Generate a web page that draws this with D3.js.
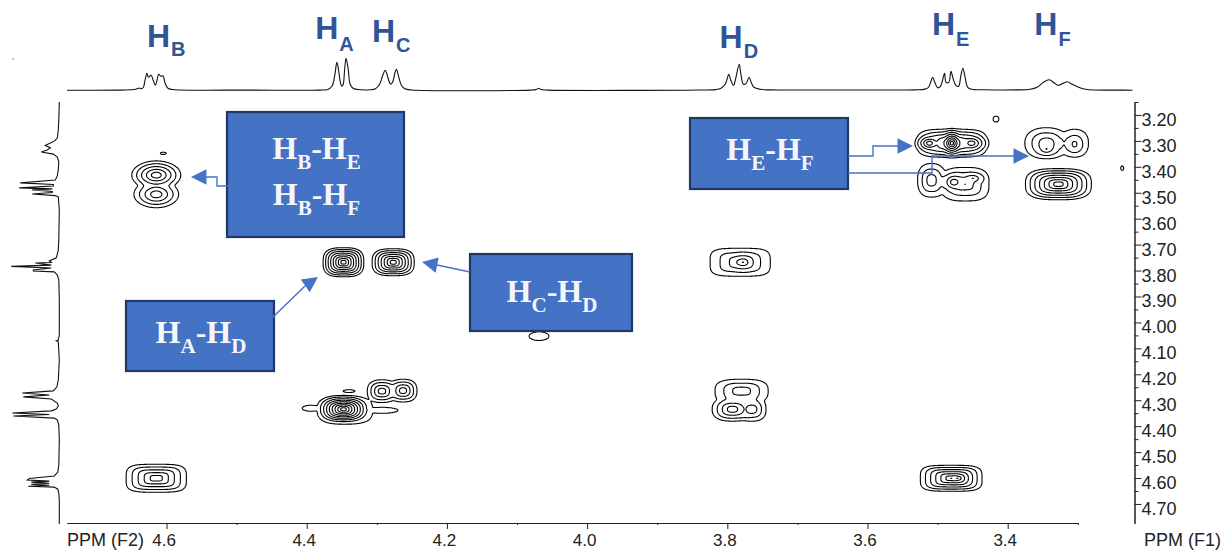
<!DOCTYPE html>
<html><head><meta charset="utf-8">
<script src="https://cdn.jsdelivr.net/npm/d3@7"></script>
<style>html,body{margin:0;padding:0;background:#fff}svg{display:block}</style>
</head><body><svg id="c" width="1223" height="551"></svg>
<script>
// ---- axis ticks
const f2Major = [4.6,4.4,4.2,4.0,3.8,3.6,3.4];
const f2Minor = [4.5,4.3,4.1,3.9,3.7,3.5,3.3];
const f1Major = [3.2,3.3,3.4,3.5,3.6,3.7,3.8,3.9,4.0,4.1,4.2,4.3,4.4,4.5,4.6,4.7];
const f1Minor = [3.15,3.25,3.35,3.45,3.55,3.65,3.75,3.85,3.95,4.05,4.15,4.25,4.35,4.45,4.55,4.65];
// ---- 1D proton trace along F2 (ppm, intensity)
const topPpm = [4.742,4.666,4.652,4.644,4.639,4.636,4.633,4.631,4.628,4.626,4.622,4.619,4.616,4.614,4.611,4.608,4.605,4.602,4.598,4.592,4.581,4.481,4.381,4.370,4.364,4.360,4.357,4.355,4.352,4.350,4.348,4.346,4.344,4.341,4.338,4.334,4.327,4.310,4.302,4.296,4.292,4.288,4.286,4.282,4.280,4.277,4.274,4.272,4.269,4.265,4.260,4.250,4.081,4.073,4.069,4.066,4.056,3.839,3.817,3.809,3.803,3.800,3.798,3.795,3.791,3.788,3.783,3.781,3.777,3.773,3.769,3.766,3.762,3.753,3.739,3.653,3.582,3.532,3.518,3.513,3.510,3.507,3.504,3.500,3.496,3.493,3.490,3.488,3.484,3.481,3.478,3.474,3.470,3.467,3.464,3.461,3.457,3.451,3.432,3.389,3.368,3.358,3.349,3.341,3.333,3.328,3.321,3.315,3.308,3.299,3.289,3.275,3.239,3.222];
const topInt = [0,0.2,0.5,1,2.3,1.5,3,9,17,13,15,10,5,9,16,14,14.5,7,2,0.8,0.3,0.2,0.2,0.8,4,15,28,22,8,4,6,20,32,22,6,2,0.8,0.5,1.5,6,14,20,17,8,6,9,18,21,14,5,1.5,0.3,0.2,0.7,2,0.7,0.2,0.3,0.7,2,6,12,16,10,5,12,26,18,6,7,13,8,3,1,0.4,0.3,0.3,0.4,1.2,3,8,13,8,2.5,4,10,17,8,8,19,12,5,4,14,22,14,3,1,0.5,0.4,1,3,8,10.5,7,5,7,8.5,6,3,1,0.3,0.2,0];
// ---- 1D proton trace along F1 (ppm, intensity)
const leftPpm = [3.150,3.219,3.258,3.289,3.301,3.308,3.318,3.326,3.335,3.343,3.351,3.362,3.381,3.412,3.435,3.451,3.462,3.468,3.474,3.481,3.485,3.489,3.495,3.499,3.505,3.511,3.516,3.566,3.682,3.721,3.751,3.763,3.769,3.771,3.779,3.784,3.790,3.798,3.802,3.805,3.817,3.836,3.913,4.048,4.068,4.071,4.075,4.145,4.222,4.249,4.264,4.272,4.280,4.287,4.295,4.311,4.322,4.334,4.341,4.349,4.355,4.361,4.369,4.376,4.395,4.453,4.550,4.577,4.592,4.602,4.608,4.612,4.616,4.620,4.624,4.628,4.632,4.635,4.643,4.658,4.685,4.777];
const leftInt = [0,0.5,1,2,5,9,14,9,12,18,6,2,0.5,1,2,4,39,6,6,40,7,27,7,7,27,4,1,0,0.5,1,3,10,8,24,8,48,8,26,26,5,2,0.5,0,0,1,3,1,0,1,2.5,6,37,10,36,8,2,1,3,8,47,10,46,5,2,0.5,0,0.5,1.5,5,30,32,10,28,10,28,10,31,5,1.5,0.5,0,0];
// ---- 2D cross peaks: centre, half width of the outer contour, contour count, squareness
const peakF2 = [4.615,4.615, 4.348,4.277, 4.348,4.345,4.292,4.395, 4.293,4.263, 4.340, 4.615, 3.782,3.778, 3.780,3.793,3.765, 3.481,3.472, 3.480,3.480,3.512,3.452, 3.509,3.461,3.477,3.450, 3.345,3.345,3.305,3.305, 3.328, 4.069, 3.417, 3.237, 4.605];
const peakF1 = [3.431,3.505, 3.767,3.767, 4.334,4.338,4.338,4.330, 4.264,4.262, 4.264, 4.600, 3.767,3.767, 4.264,4.334,4.334, 4.600,4.600, 3.308,3.308,3.308,3.308, 3.451,3.466,3.458,3.443, 3.308,3.330,3.308,3.315, 3.466, 4.052, 3.215, 3.404, 3.347];
const peakWF2 = [0.035,0.032, 0.029,0.030, 0.036,0.038,0.022,0.012, 0.021,0.020, 0.0086, 0.043, 0.043,0.022, 0.038,0.029,0.020, 0.044,0.026, 0.0485,0.018,0.020,0.024, 0.020,0.034,0.019,0.019, 0.031,0.016,0.020,0.012, 0.047, 0.0143, 0.0043, 0.0022, 0.0043];
const peakWF1 = [0.055,0.052, 0.056,0.052, 0.052,0.052,0.012,0.012, 0.044,0.044, 0.006, 0.054, 0.054,0.040, 0.046,0.046,0.046, 0.050,0.032, 0.054,0.054,0.036,0.040, 0.065,0.065,0.040,0.024, 0.060,0.030,0.054,0.036, 0.060, 0.0174, 0.0116, 0.0090, 0.0050];
const peakRings = [5,4, 8,7, 9,1,1,1, 4,4, 1, 5, 3,4, 3,4,3, 6,6, 5,8,5,5, 3,3,4,3, 3,3,2,2, 7, 1, 1, 1, 1];
const peakPower = [2,2, 3,3, 2.5,3,2,2, 2.5,2.5, 2, 4, 4,2, 3,2.5,2.5, 4,2.5, 4,2,2,2, 2.5,3,2,2, 2.3,2,2.3,2, 3, 2, 2, 2, 2];
// ---- labels
const protonNames = ["B","A","C","D","E","F"];
const protonPpm = [4.628,4.388,4.307,3.811,3.508,3.362];
const protonBase = [47,39,42,48,35,35];
const protonSubDrop = [9,12,10,10,11,11];
const boxLines = [[["B","E"],["B","F"]],[["E","F"]],[["A","D"]],[["C","D"]]];
const boxRects = [[227,112,177,125],[690,118,158,71],[126,301,148,70],[470,254,162,77]];
const boxBase = [[159,205],[160],[343],[302]];
const arrows = [
 [[229,186],[217,186],[217,177],[206,177],[191,177]],
 [[848,156],[873,156],[873,146],[898,146],[913,146]],
 [[848,173],[932,173],[932,156],[1014,156],[1029,156]],
 [[272,318],[305,286],[318,277]],
 [[470,272],[437,265],[422,262]]
];
const F = "'Liberation Sans',Arial,sans-serif";
const svg = d3.select("#c");
const x = d3.scaleLinear().domain([4.742,3.3]).range([67,1077.8]);
const y = d3.scaleLinear().domain([3.15,4.775]).range([102,523.4]);
const topY = d3.scaleLinear().domain([0,33]).range([90.3,57.3]);
const leftX = d3.scaleLinear().domain([0,50]).range([59.3,9.3]);

// ---- contour surface
const sc=2, gx0=60, gy0=100, gw=(1130-gx0)*sc, gh=(528-gy0)*sc;
const grid=new Float64Array(gw*gh);
const C=0.5, Q=3;
peakF2.forEach((f2,k)=>{
  const cx=(x(f2)-gx0)*sc, cy=(y(peakF1[k])-gy0)*sc;
  const wx=Math.abs(x(f2+peakWF2[k])-x(f2))*sc, wy=Math.abs(y(peakF1[k]+peakWF1[k])-y(peakF1[k]))*sc;
  const p=peakPower[k], h=peakRings[k];
  const i0=Math.max(0,Math.floor(cx-wx*2)), i1=Math.min(gw-1,Math.ceil(cx+wx*2));
  const j0=Math.max(0,Math.floor(cy-wy*2)), j1=Math.min(gh-1,Math.ceil(cy+wy*2));
  for(let j=j0;j<=j1;j++)for(let i=i0;i<=i1;i++){
    const d=Math.pow(Math.pow(Math.abs((i-cx)/wx),p)+Math.pow(Math.abs((j-cy)/wy),p),1/p);
    const e=d<1?C*h*(1-d):C*8*(1-d);
    grid[j*gw+i]+=Math.exp(Q*e);
  }
});
for(let i=0;i<grid.length;i++) grid[i]=Math.cbrt(grid[i]);
const thresholds=d3.range(0,9).map(k=>Math.exp(C*k));
const cs=d3.contours().size([gw,gh]).thresholds(thresholds)(grid);
const gc=svg.append("g").attr("transform",`translate(${gx0},${gy0}) scale(${1/sc})`);
gc.selectAll("path").data(cs).join("path").attr("d",d3.geoPath())
  .attr("fill","none").attr("stroke","#000").attr("stroke-width",2.2);

// ---- 1D traces
svg.append("path").attr("fill","none").attr("stroke","#111").attr("stroke-width",1.1)
  .attr("d",d3.line().x((d,i)=>x(d)).y((d,i)=>topY(topInt[i])).curve(d3.curveCatmullRom)(topPpm));
svg.append("path").attr("fill","none").attr("stroke","#111").attr("stroke-width",1.1)
  .attr("d",d3.line().x((d,i)=>leftX(leftInt[i])).y(d=>y(d))(leftPpm));
svg.append("circle").attr("cx",13).attr("cy",59).attr("r",0.7).attr("fill","#555");

// ---- axes
const ax=svg.append("g").attr("transform","translate(0,523)");
ax.call(d3.axisBottom(x).tickValues(f2Major).tickSize(6).tickSizeOuter(0).tickFormat(d3.format(".1f")));
ax.selectAll(".tick text").attr("dx",-3).attr("y",11).attr("dy","0.71em").attr("font-size",17);
const ax2=svg.append("g").attr("transform","translate(0,523)");
ax2.call(d3.axisBottom(x).tickValues(f2Minor).tickSize(2).tickSizeOuter(0).tickFormat(""));
const ay=svg.append("g").attr("transform","translate(1134.5,0)");
ay.call(d3.axisRight(y).tickValues(f1Major).tickSize(7).tickSizeOuter(0).tickFormat(d3.format(".2f")));
ay.selectAll(".tick text").attr("x",7).attr("dy","0.58em").attr("font-size",18);
const ay2=svg.append("g").attr("transform","translate(1134.5,0)");
ay2.call(d3.axisRight(y).tickValues(f1Minor).tickSize(4).tickSizeOuter(0).tickFormat(""));
svg.selectAll(".domain,.tick line").attr("stroke","#222");
svg.selectAll(".tick text").attr("font-family",F).attr("fill","#222");
svg.append("text").attr("x",67).attr("y",546).attr("font-family",F).attr("font-size",18).attr("fill","#222").text("PPM (F2)");
svg.append("text").attr("x",1144).attr("y",546).attr("font-family",F).attr("font-size",18).attr("fill","#222").text("PPM (F1)");

// ---- proton labels
protonNames.forEach((n,i)=>{
  const t=svg.append("text").attr("x",x(protonPpm[i])).attr("y",protonBase[i])
    .attr("font-family",F).attr("font-weight","bold").attr("fill","#2F5597").attr("font-size",32);
  t.append("tspan").text("H");
  t.append("tspan").attr("font-size",20).attr("dx",1).attr("dy",protonSubDrop[i]).text(n);
});

// ---- annotation boxes
boxRects.forEach((r,i)=>{
  svg.append("rect").attr("x",r[0]).attr("y",r[1]).attr("width",r[2]).attr("height",r[3])
    .attr("fill","#4472C4").attr("stroke","#203864").attr("stroke-width",2.2);
  boxLines[i].forEach((pair,l)=>{
    const b=boxBase[i][l];
    const t=svg.append("text").attr("x",r[0]+r[2]/2+1).attr("y",b).attr("text-anchor","middle")
      .attr("font-family","'Liberation Serif','Times New Roman',serif").attr("font-weight","bold")
      .attr("fill","#F4F6FB").attr("font-size",32);
    t.append("tspan").text("H");
    t.append("tspan").attr("font-size",21).attr("dy",10).text(pair[0]);
    t.append("tspan").attr("dy",-10).text("-H");
    t.append("tspan").attr("font-size",21).attr("dy",10).text(pair[1]);
  });
});

// ---- arrows
arrows.forEach(a=>{
  const n=a.length, tip=a[n-1], base=a[n-2];
  svg.append("path").attr("fill","none").attr("stroke","#4472C4").attr("stroke-width",1.4)
    .attr("d",d3.line()(a.slice(0,n-1)));
  const ang=Math.atan2(tip[1]-base[1],tip[0]-base[0]);
  const ux=Math.cos(ang), uy=Math.sin(ang), L=15.5, W=7.8;
  const bx=tip[0]-ux*L, by=tip[1]-uy*L;
  svg.append("path").attr("fill","#4472C4")
    .attr("d",d3.line()([tip,[bx-uy*W,by+ux*W],[bx+uy*W,by-ux*W],tip]));
});
</script></body></html>
